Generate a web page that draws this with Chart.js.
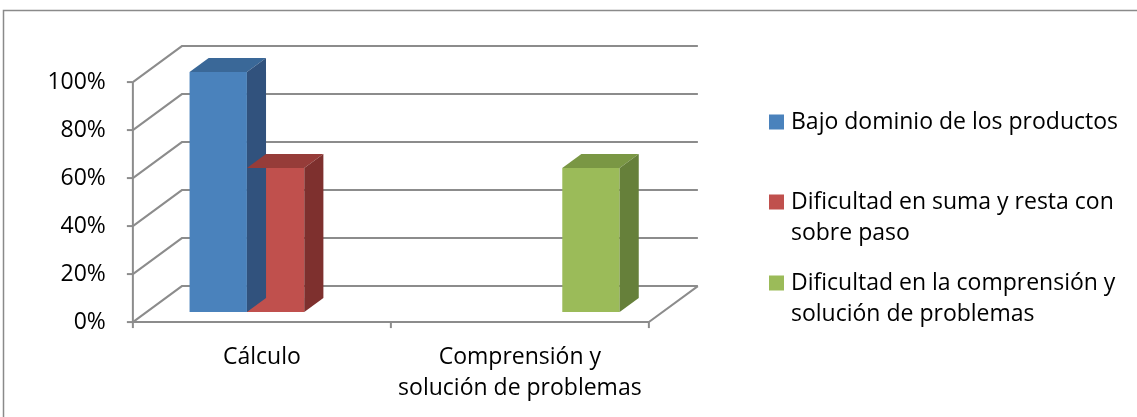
<!DOCTYPE html>
<html>
<head>
<meta charset="utf-8">
<script src="https://cdn.jsdelivr.net/npm/chart.js@4/dist/chart.umd.min.js"></script>
<style>
  html, body { margin: 0; padding: 0; background: #fff; }
  #grafico { display: block; }
</style>
</head>
<body>
<canvas id="grafico" width="1137" height="417"></canvas>
<script>
// Datos del grafico
const categorias = ["Cálculo", ["Comprensión y", "solución de problemas"]];
const series = [
  "Bajo dominio de los productos",
  "Dificultad en suma y resta con sobre paso",
  "Dificultad en la comprensión y solución de problemas"
];
const valoresBajo = [100, 0];
const valoresSuma = [60, 0];
const valoresComp = [0, 60];
const ticksY = [0, 20, 40, 60, 80, 100];

// Colores (frente, tapa, lado)
const colores = [
  ["#4A82BC", "#3A6898", "#31527D"],
  ["#C0504D", "#963C39", "#7E302E"],
  ["#9BBB59", "#7A9744", "#66803A"]
];

const fuente = "23px 'Open Sans'";
const gris = "#8c8c8c";

// profundidad de la caja 3D
const prof = { dx: 49, dy: -36 };
const tBarra = 0.28;   // plano frontal de las barras
const tFondo = 0.39;   // profundidad de cada barra

function partirTexto(ctx, texto, ancho) {
  let palabras = texto.split(" ");
  let lineas = [];
  let actual = "";
  palabras.forEach((p) => {
    let prueba = actual ? actual + " " + p : p;
    if (ctx.measureText(prueba).width > ancho && actual) {
      lineas.push(actual);
      actual = p;
    } else {
      actual = prueba;
    }
  });
  lineas.push(actual);
  return lineas;
}

const caja3d = {
  id: "caja3d",
  beforeDatasetsDraw(chart) {
    const ctx = chart.ctx;
    const x = chart.scales.x;
    const y = chart.scales.y;
    const area = chart.chartArea;

    // desplazamientos desde el plano de las barras
    const fx = -prof.dx * tBarra, fy = -prof.dy * tBarra;

    const izq = area.left + fx;
    const der = area.right + fx;

    ctx.save();
    // borde exterior
    ctx.strokeStyle = "#8a8a8a";
    ctx.lineWidth = 1.5;
    ctx.strokeRect(3.5, 10.5, 1200, 500);

    ctx.strokeStyle = gris;
    ctx.lineWidth = 2;
    ticksY.forEach((v) => {
      let py = y.getPixelForValue(v);
      ctx.beginPath();
      ctx.moveTo(izq, py + fy);
      ctx.lineTo(izq + prof.dx, py + fy + prof.dy);
      ctx.lineTo(der + prof.dx, py + fy + prof.dy);
      ctx.stroke();
      // marca del eje
      ctx.beginPath();
      ctx.moveTo(izq - 6, py + fy);
      ctx.lineTo(izq, py + fy);
      ctx.stroke();
    });

    // eje vertical frontal
    ctx.beginPath();
    ctx.moveTo(izq, y.getPixelForValue(100) + fy);
    ctx.lineTo(izq, y.getPixelForValue(0) + fy);
    ctx.stroke();

    // piso
    let base = y.getPixelForValue(0) + fy;
    ctx.beginPath();
    ctx.moveTo(izq, base);
    ctx.lineTo(der, base);
    ctx.lineTo(der + prof.dx, base + prof.dy);
    ctx.stroke();

    // marcas de categorias
    let anchoCat = (area.right - area.left) / categorias.length;
    for (let i = 0; i <= categorias.length; i++) {
      let px = izq + anchoCat * i;
      ctx.beginPath();
      ctx.moveTo(px, base);
      ctx.lineTo(px, base + 6);
      ctx.stroke();
    }

    // etiquetas del eje y
    ctx.fillStyle = "#000";
    ctx.font = fuente;
    ctx.textAlign = "right";
    ctx.textBaseline = "middle";
    ticksY.forEach((v) => {
      ctx.fillText(v + "%", izq - 27, y.getPixelForValue(v) + fy);
    });

    // etiquetas de categorias
    ctx.textAlign = "center";
    categorias.forEach((c, i) => {
      let lineas = Array.isArray(c) ? c : [c];
      let px = x.getPixelForValue(i) + fx;
      lineas.forEach((l, j) => {
        ctx.fillText(l, px, base + 35 + j * 31);
      });
    });

    // leyenda
    const posLeyenda = [122, 202, 283];
    ctx.textAlign = "left";
    chart.data.datasets.forEach((ds, i) => {
      let lineas = partirTexto(ctx, ds.label, 345);
      ctx.fillStyle = colores[i][0];
      ctx.fillRect(769, posLeyenda[i] - 7.5, 15, 15);
      ctx.fillStyle = "#000";
      lineas.forEach((l, j) => {
        ctx.fillText(l, 791, posLeyenda[i] + j * 31.5);
      });
    });
    ctx.restore();
  },
  afterDatasetsDraw(chart) {
    const ctx = chart.ctx;
    const dx = prof.dx * tFondo, dy = prof.dy * tFondo;
    ctx.save();
    chart.data.datasets.forEach((ds, i) => {
      const meta = chart.getDatasetMeta(i);
      meta.data.forEach((bar, j) => {
        if (!ds.data[j]) return;
        const p = bar.getProps(["x", "y", "base", "width"], true);
        const x0 = p.x - p.width / 2, x1 = p.x + p.width / 2;
        // tapa
        ctx.fillStyle = colores[i][1];
        ctx.beginPath();
        ctx.moveTo(x0, p.y);
        ctx.lineTo(x1, p.y);
        ctx.lineTo(x1 + dx, p.y + dy);
        ctx.lineTo(x0 + dx, p.y + dy);
        ctx.closePath();
        ctx.fill();
        // lado
        ctx.fillStyle = colores[i][2];
        ctx.beginPath();
        ctx.moveTo(x1, p.y);
        ctx.lineTo(x1 + dx, p.y + dy);
        ctx.lineTo(x1 + dx, p.base + dy);
        ctx.lineTo(x1, p.base);
        ctx.closePath();
        ctx.fill();
      });
    });
    ctx.restore();
  }
};

const datosSeries = [valoresBajo, valoresSuma, valoresComp];

new Chart(document.getElementById("grafico"), {
  type: "bar",
  data: {
    labels: categorias,
    datasets: series.map((s, i) => ({
      label: s,
      data: datosSeries[i],
      backgroundColor: colores[i][0],
      borderWidth: 0,
      categoryPercentage: 0.667,
      barPercentage: 1
    }))
  },
  options: {
    responsive: false,
    animation: false,
    layout: { padding: { left: 146.6, right: 474.4, top: 72, bottom: 105 } },
    plugins: { legend: { display: false }, tooltip: { enabled: false } },
    scales: {
      x: { display: false },
      y: { display: false, min: 0, max: 100 }
    }
  },
  plugins: [caja3d]
});
</script>
</body>
</html>
